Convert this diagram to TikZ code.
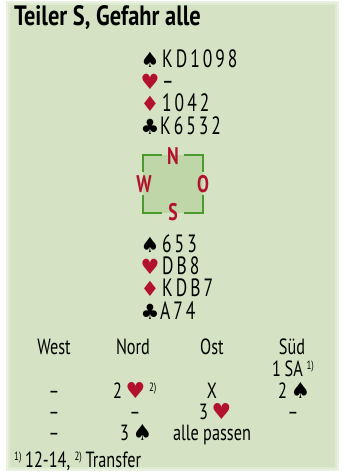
\documentclass[tikz,border=0pt]{standalone}
\usepackage{fontspec}
\setmainfont{PT Sans}[FakeStretch=0.74]
\newfontfamily\titlefont{PT Sans}[FakeStretch=0.80]
\newfontfamily\suitfont{DejaVu Sans}
\newfontfamily\spaced{PT Sans}[FakeStretch=0.70,LetterSpace=12]
\definecolor{panel}{HTML}{D5E3C4}
\definecolor{inner}{HTML}{BED6A8}
\definecolor{frame}{HTML}{4C9A2F}
\definecolor{cardred}{HTML}{B3122E}
\newcommand{\Sp}{{\suitfont\char"2660}}
\newcommand{\He}{{\color{cardred}\suitfont\char"2665}}
\newcommand{\Di}{{\color{cardred}\suitfont\char"2666}}
\newcommand{\Cl}{{\suitfont\char"2663}}
\newcommand{\fn}[1]{\raisebox{0.6ex}{\fontsize{12}{12}\selectfont #1)}}
\begin{document}
\begin{tikzpicture}[x=1pt,y=-1pt,
  suit/.style={anchor=base,inner sep=0pt,font=\fontsize{21}{21}\selectfont\suitfont},
  hand/.style={anchor=base west,inner sep=0pt,font=\fontsize{25}{25}\selectfont\spaced},
  bid/.style={anchor=base,inner sep=0pt,font=\fontsize{22}{22}\selectfont},
  bidw/.style={anchor=base west,inner sep=0pt,font=\fontsize{22}{22}\selectfont},
  dir/.style={text=cardred,font=\fontsize{24}{24}\selectfont\bfseries,inner sep=0pt},
  cbar/.style={frame,line width=2pt}]
\useasboundingbox (0,0) rectangle (344,472);
\fill[white] (0,0) rectangle (344,472);
\fill[panel!50] (6,1) rectangle (339,471);
\fill[panel!75] (8,3) rectangle (337,469);
\fill[panel] (10,5) rectangle (335,467);
% title
\node[anchor=base west,inner sep=0pt,font=\fontsize{28}{28}\selectfont\titlefont\bfseries] (title) at (14,25) {Teiler S, Gefahr alle};
% North
\node[suit] (nsS) at (150,67) {\Sp};
\node[hand] (ns) at (162,67) {KD1098};
\node[suit,text=cardred] (nhS) at (150,89) {\char"2665};
\node[hand] (nh) at (162,89) {–};
\node[suit,text=cardred] (ndS) at (150,111) {\char"2666};
\node[hand] (nd) at (162,111) {1042};
\node[suit] (ncS) at (150,134) {\Cl};
\node[hand] (nc) at (160,134) {K6532};
% compass
\fill[inner] (143,155) rectangle (203,213);
\draw[cbar] (162,155) -- (143,155) -- (143,172);
\draw[cbar] (184,155) -- (203,155) -- (203,172);
\draw[cbar] (162,213) -- (143,213) -- (143,195);
\draw[cbar] (184,213) -- (203,213) -- (203,195);
\node[dir] (N) at (173,156) {N};
\node[dir] (W) at (144,184) {W};
\node[dir] (O) at (203,184) {O};
\node[dir] (S) at (173,212) {S};
% South
\node[suit] (ssS) at (150,252) {\Sp};
\node[hand] (ss) at (162,252) {653};
\node[suit,text=cardred] (shS) at (150,274) {\char"2665};
\node[hand] (sh) at (162,274) {DB8};
\node[suit,text=cardred] (sdS) at (150,296) {\char"2666};
\node[hand] (sd) at (162,296) {KDB7};
\node[suit] (scS) at (150,319) {\Cl};
\node[hand] (sc) at (160,319) {A74};
% bidding
\node[bid] (hw) at (54,354) {West};
\node[bid] (hn) at (133,354) {Nord};
\node[bid] (ho) at (212,354) {Ost};
\node[bid] (hs) at (292,354) {Süd};
\node[bidw] (b1) at (272,376) {1\,SA\,\fn{1}};
\node[bid] (b2) at (54,398) {–};
\node[bidw] (b3) at (113,398) {2\,\He\,\fn{2}};
\node[bid] (b4) at (212,398) {X};
\node[bidw] (b5) at (278,398) {2\,\Sp};
\node[bid] (b6) at (54,419) {–};
\node[bid] (b7) at (135,419) {–};
\node[bidw] (b8) at (199,419) {3\,\He};
\node[bid] (b9) at (293,419) {–};
\node[bid] (b10) at (54,440) {–};
\node[bidw] (b11) at (120,440) {3\,\Sp};
\node[bid] (b12) at (212,440) {alle passen};
\node[anchor=base west,inner sep=0pt,font=\fontsize{22}{22}\selectfont] (foot) at (14,467) {\fn{1}\,12-14, \fn{2}\,Transfer};
\end{tikzpicture}
\end{document}
